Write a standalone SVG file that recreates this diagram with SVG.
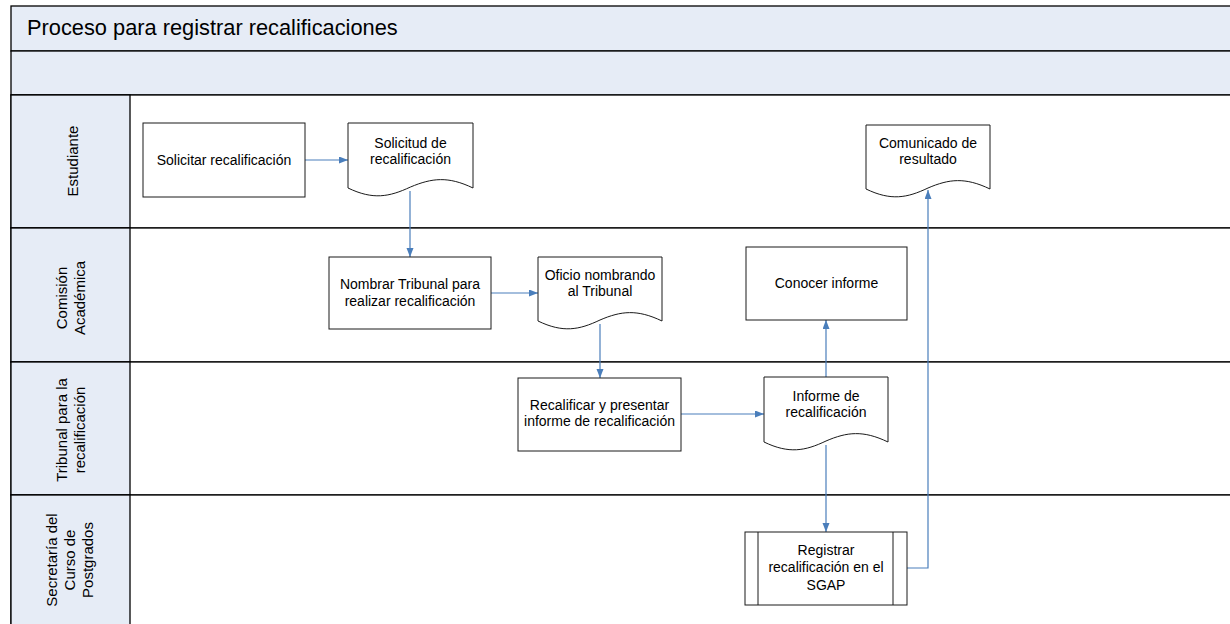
<svg xmlns="http://www.w3.org/2000/svg" width="1230" height="624" viewBox="0 0 1230 624">
<style>
.band{fill:#E6ECF6;stroke:#000;stroke-width:1.3}
.lane{fill:#fff;stroke:#000;stroke-width:1.3}
.box{fill:#fff;stroke:#1a1a1a;stroke-width:1}
.t{font-family:"Liberation Sans",Arial,sans-serif;font-size:14px;fill:#000;text-anchor:middle}
.lbl{font-family:"Liberation Sans",Arial,sans-serif;font-size:15px;fill:#000;text-anchor:middle}
.title{font-family:"Liberation Sans",Arial,sans-serif;font-size:21.8px;fill:#000}
.c{fill:none;stroke:#4A7EBB;stroke-width:1.2}
</style>
<defs>
<marker id="ah" markerUnits="userSpaceOnUse" markerWidth="10" markerHeight="8" refX="9" refY="3.5" orient="auto">
<path d="M0,0 L9,3.5 L0,7 z" fill="#4A7EBB"/>
</marker>
</defs>
<g id="pool">
<rect class="band" x="11" y="6" width="1230" height="45"/>
<text class="title" x="27" y="35">Proceso para registrar recalificaciones</text>
<rect class="band" x="11" y="51" width="1230" height="44"/>
</g>
<g id="lane-estudiante">
<rect class="lane" x="11" y="95" width="1230" height="133"/>
<rect class="band" x="11" y="95" width="119" height="133"/>
<text class="lbl" transform="translate(70,161) rotate(-90)" x="0" y="8">Estudiante</text>
</g>
<g id="lane-comision">
<rect class="lane" x="11" y="228" width="1230" height="134"/>
<rect class="band" x="11" y="228" width="119" height="134"/>
<text class="lbl" transform="translate(70,298) rotate(-90)"><tspan x="0" y="-3">Comisión</tspan><tspan x="0" y="15">Académica</tspan></text>
</g>
<g id="lane-tribunal">
<rect class="lane" x="11" y="362" width="1230" height="133"/>
<rect class="band" x="11" y="362" width="119" height="133"/>
<text class="lbl" transform="translate(70,430) rotate(-90)"><tspan x="0" y="-3">Tribunal para la</tspan><tspan x="0" y="15">recalificación</tspan></text>
</g>
<g id="lane-secretaria">
<rect class="lane" x="11" y="495" width="1230" height="140"/>
<rect class="band" x="11" y="495" width="119" height="140"/>
<text class="lbl" transform="translate(70,560) rotate(-90)"><tspan x="0" y="-13">Secretaría del</tspan><tspan x="0" y="5">Curso de</tspan><tspan x="0" y="23">Postgrados</tspan></text>
</g>

<g id="connectors">
<path class="c" d="M305,160 H348" marker-end="url(#ah)"/>
<path class="c" d="M410,191 V257" marker-end="url(#ah)"/>
<path class="c" d="M491,293 H538" marker-end="url(#ah)"/>
<path class="c" d="M600,324 V378" marker-end="url(#ah)"/>
<path class="c" d="M681,414 H764" marker-end="url(#ah)"/>
<path class="c" d="M826,377 V320" marker-end="url(#ah)"/>
<path class="c" d="M826,445 V532" marker-end="url(#ah)"/>
<path class="c" d="M907,568 H928 V190" marker-end="url(#ah)"/>
</g>

<g id="n-solicitar">
<rect class="box" x="143" y="123" width="162" height="74"/>
<text class="t" x="224" y="165">Solicitar recalificación</text>
</g>
<g id="n-solicitud">
<path class="box" d="M348,123 H473 V188 C448,176 432,178 410.5,187 C389,197 373,200 348,188 Z"/>
<text class="t"><tspan x="410.5" y="148">Solicitud de</tspan><tspan x="410.5" y="164">recalificación</tspan></text>
</g>
<g id="n-nombrar">
<rect class="box" x="329" y="257" width="162" height="72"/>
<text class="t"><tspan x="410" y="289">Nombrar Tribunal para</tspan><tspan x="410" y="306">realizar recalificación</tspan></text>
</g>
<g id="n-oficio">
<path class="box" d="M538,257 H662 V321 C637,309 621,311 600,320 C579,330 563,333 538,321 Z"/>
<text class="t"><tspan x="600" y="280">Oficio nombrando</tspan><tspan x="600" y="296">al Tribunal</tspan></text>
</g>
<g id="n-conocer">
<rect class="box" x="746" y="247" width="161" height="73"/>
<text class="t" x="826.5" y="288">Conocer informe</text>
</g>
<g id="n-comunicado">
<path class="box" d="M866,125 H990 V189 C965,177 949,179 928,188 C907,198 891,201 866,189 Z"/>
<text class="t"><tspan x="928" y="148">Comunicado de</tspan><tspan x="928" y="164">resultado</tspan></text>
</g>
<g id="n-recalificar">
<rect class="box" x="518" y="378" width="163" height="73"/>
<text class="t"><tspan x="599.5" y="410">Recalificar y presentar</tspan><tspan x="599.5" y="426">informe de recalificación</tspan></text>
</g>
<g id="n-informe">
<path class="box" d="M764,377 H888 V442 C863,430 847,432 826,441 C805,451 789,454 764,442 Z"/>
<text class="t"><tspan x="826" y="401">Informe de</tspan><tspan x="826" y="417">recalificación</tspan></text>
</g>
<g id="n-registrar">
<rect class="box" x="745" y="532" width="162" height="73"/>
<line class="box" x1="758" y1="532" x2="758" y2="605"/>
<line class="box" x1="893" y1="532" x2="893" y2="605"/>
<text class="t"><tspan x="826" y="555">Registrar</tspan><tspan x="826" y="572">recalificación en el</tspan><tspan x="826" y="590">SGAP</tspan></text>
</g>
</svg>
